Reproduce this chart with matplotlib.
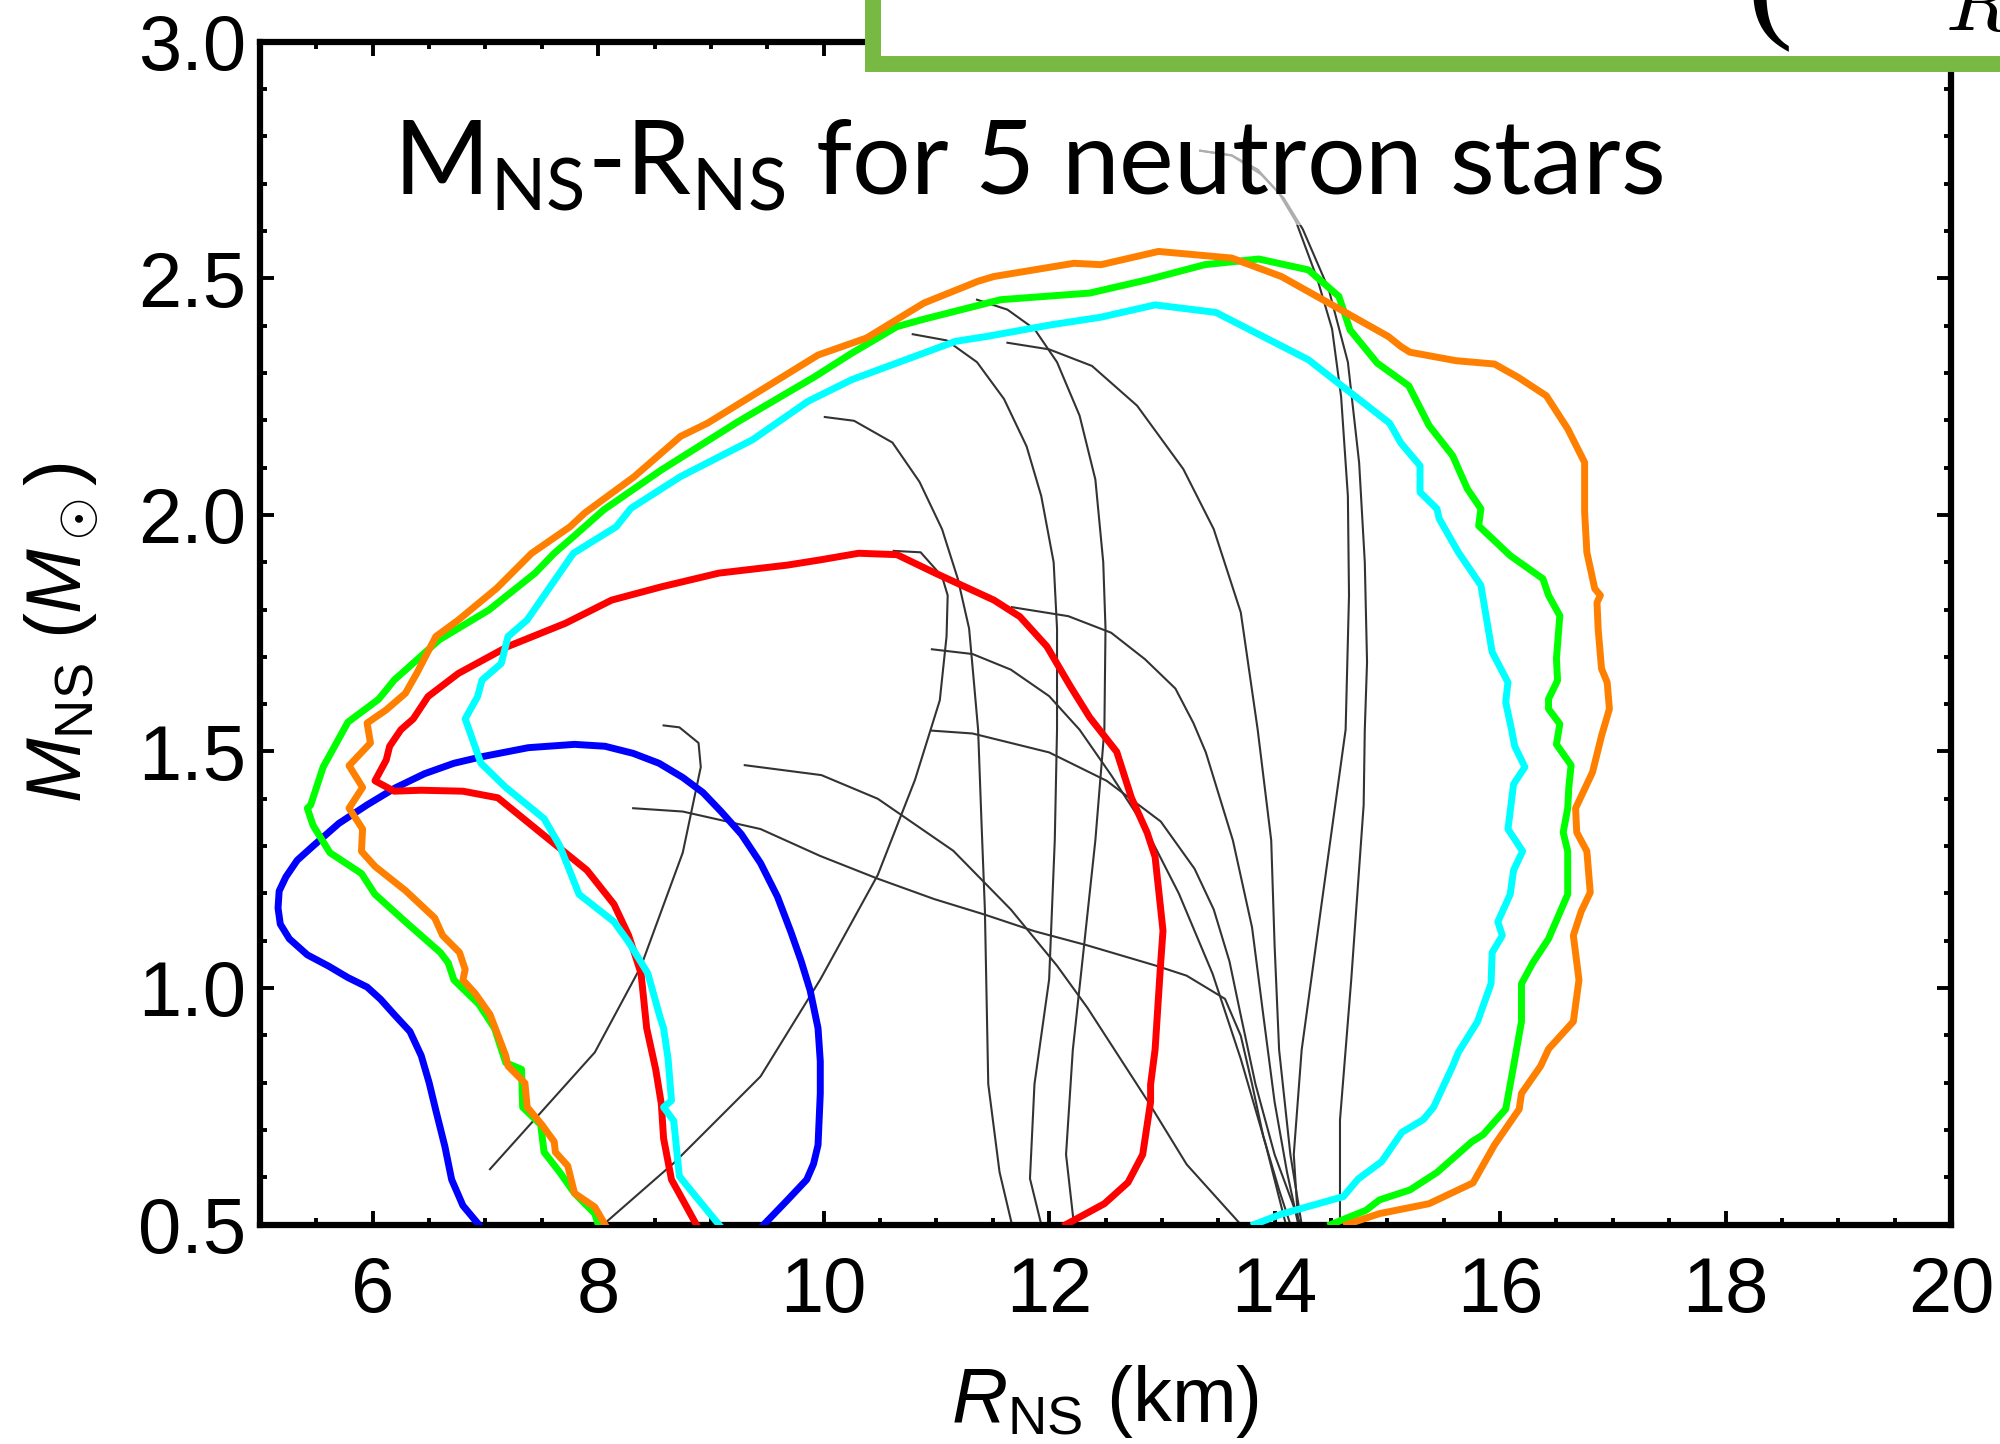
import numpy as np
import matplotlib
matplotlib.use('Agg')
import matplotlib.pyplot as plt
from matplotlib.patches import Rectangle
from matplotlib.ticker import MultipleLocator, FormatStrFormatter

plt.rcParams['font.family'] = ['Liberation Sans', 'DejaVu Sans']
plt.rcParams['mathtext.fontset'] = 'custom'
plt.rcParams['mathtext.rm'] = 'Liberation Sans'
plt.rcParams['mathtext.it'] = 'Liberation Sans:italic'
plt.rcParams['mathtext.sf'] = 'Lato'

# # # contours (R in km, M in solar masses)

blue_pts = [(6.94, 0.50), (6.80, 0.54), (6.70, 0.595), (6.64, 0.665), (6.56, 0.741), (6.50, 0.80),
            (6.43, 0.857), (6.33, 0.908), (6.19, 0.944), (6.07, 0.976), (5.95, 1.002), (5.78, 1.022),
            (5.61, 1.046), (5.42, 1.070), (5.26, 1.104), (5.18, 1.135), (5.16, 1.169), (5.17, 1.205),
            (5.23, 1.235), (5.33, 1.270), (5.47, 1.30), (5.70, 1.348), (5.95, 1.387), (6.20, 1.423),
            (6.46, 1.453), (6.72, 1.475), (6.97, 1.489), (7.38, 1.508), (7.79, 1.515), (8.06, 1.511),
            (8.31, 1.496), (8.54, 1.475), (8.75, 1.445), (8.93, 1.413), (9.09, 1.373), (9.27, 1.325),
            (9.44, 1.264), (9.59, 1.193), (9.71, 1.118), (9.80, 1.057), (9.88, 0.995), (9.95, 0.915),
            (9.97, 0.845), (9.97, 0.777), (9.95, 0.668), (9.91, 0.628), (9.85, 0.595), (9.68, 0.552),
            (9.47, 0.50)]

red_pts = [(8.87, 0.50), (8.75, 0.552), (8.65, 0.595), (8.58, 0.682), (8.56, 0.755), (8.51, 0.828),
           (8.43, 0.915), (8.38, 1.031), (8.27, 1.111), (8.14, 1.177), (7.90, 1.249), (7.45, 1.336),
           (7.11, 1.402), (6.80, 1.416), (6.43, 1.418), (6.19, 1.416), (6.02, 1.438), (6.12, 1.482),
           (6.15, 1.511), (6.25, 1.546), (6.36, 1.569), (6.49, 1.616), (6.76, 1.665), (7.20, 1.722),
           (7.71, 1.771), (8.12, 1.820), (8.56, 1.848), (9.07, 1.877), (9.68, 1.894), (9.97, 1.905),
           (10.31, 1.919), (10.65, 1.916), (10.99, 1.877), (11.51, 1.820), (11.74, 1.785),
           (11.98, 1.722), (12.19, 1.637), (12.36, 1.572), (12.60, 1.499), (12.73, 1.402),
           (12.87, 1.328), (12.94, 1.277), (12.99, 1.166), (13.01, 1.121), (12.99, 1.055),
           (12.97, 0.981), (12.94, 0.870), (12.90, 0.796), (12.90, 0.759), (12.83, 0.648),
           (12.70, 0.589), (12.49, 0.544), (12.15, 0.50)]

cyan_pts = [(9.07, 0.50), (8.89, 0.552), (8.72, 0.602), (8.67, 0.719), (8.58, 0.748), (8.65, 0.762),
            (8.62, 0.85), (8.58, 0.915), (8.55, 0.937), (8.44, 1.031), (8.27, 1.097), (8.14, 1.14),
            (7.83, 1.198), (7.66, 1.30), (7.52, 1.358), (7.18, 1.424), (6.96, 1.475), (6.82, 1.569),
            (6.93, 1.616), (6.97, 1.651), (7.14, 1.686), (7.20, 1.743), (7.37, 1.778), (7.78, 1.919),
            (8.16, 1.975), (8.29, 2.014), (8.73, 2.081), (9.37, 2.159), (9.86, 2.240), (10.25, 2.286),
            (11.17, 2.367), (11.44, 2.377), (12.02, 2.402), (12.46, 2.418), (12.94, 2.444),
            (13.48, 2.428), (14.30, 2.328), (15.02, 2.194), (15.12, 2.152), (15.29, 2.104),
            (15.29, 2.048), (15.44, 2.013), (15.46, 1.992), (15.63, 1.921), (15.83, 1.851),
            (15.93, 1.710), (16.07, 1.646), (16.05, 1.604), (16.10, 1.548), (16.13, 1.511),
            (16.22, 1.467), (16.12, 1.431), (16.07, 1.336), (16.20, 1.289), (16.12, 1.249),
            (16.09, 1.198), (15.98, 1.140), (16.02, 1.111), (15.93, 1.075), (15.92, 1.009),
            (15.80, 0.929), (15.63, 0.864), (15.58, 0.835), (15.41, 0.748), (15.32, 0.722),
            (15.13, 0.695), (14.95, 0.633), (14.74, 0.596), (14.61, 0.559), (14.06, 0.522),
            (13.82, 0.50)]

green_pts = [(8.00, 0.50), (7.97, 0.523), (7.79, 0.566), (7.66, 0.610), (7.52, 0.653), (7.49, 0.711),
             (7.33, 0.748), (7.32, 0.828), (7.18, 0.842), (7.08, 0.915), (6.94, 0.966), (6.72, 1.017),
             (6.67, 1.053), (6.60, 1.075), (6.29, 1.14), (6.02, 1.198), (5.90, 1.242), (5.62, 1.286),
             (5.47, 1.344), (5.42, 1.38), (5.45, 1.387), (5.56, 1.467), (5.78, 1.562), (6.05, 1.61),
             (6.12, 1.630), (6.19, 1.651), (6.29, 1.672), (6.59, 1.736), (7.03, 1.799), (7.44, 1.877),
             (7.61, 1.919), (7.78, 1.954), (8.05, 2.011), (8.56, 2.095), (9.24, 2.197), (9.92, 2.292),
             (10.25, 2.342), (10.65, 2.398), (10.86, 2.412), (11.57, 2.455), (12.36, 2.469),
             (12.87, 2.497), (13.38, 2.529), (13.86, 2.541), (14.30, 2.518), (14.57, 2.462),
             (14.67, 2.391), (14.91, 2.321), (15.19, 2.273), (15.37, 2.189), (15.58, 2.125),
             (15.71, 2.055), (15.83, 2.013), (15.81, 1.977), (16.09, 1.914), (16.38, 1.865),
             (16.43, 1.830), (16.53, 1.787), (16.50, 1.696), (16.51, 1.650), (16.43, 1.611),
             (16.43, 1.590), (16.53, 1.558), (16.50, 1.515), (16.63, 1.471), (16.61, 1.424),
             (16.60, 1.380), (16.56, 1.329), (16.60, 1.289), (16.60, 1.198), (16.43, 1.104),
             (16.29, 1.053), (16.19, 1.009), (16.19, 0.929), (16.12, 0.835), (16.05, 0.744),
             (15.85, 0.690), (15.75, 0.675), (15.44, 0.610), (15.20, 0.573), (14.93, 0.552),
             (14.81, 0.530), (14.50, 0.50)]

orange_pts = [(8.06, 0.50), (7.97, 0.537), (7.79, 0.566), (7.73, 0.624), (7.62, 0.653), (7.61, 0.675),
              (7.50, 0.711), (7.37, 0.748), (7.35, 0.799), (7.20, 0.835), (7.18, 0.857), (7.04, 0.944),
              (6.91, 0.988), (6.80, 1.017), (6.82, 1.039), (6.77, 1.075), (6.62, 1.111), (6.55, 1.148),
              (6.29, 1.206), (6.02, 1.257), (5.90, 1.289), (5.91, 1.336), (5.79, 1.38), (5.91, 1.424),
              (5.79, 1.47), (5.98, 1.518), (5.95, 1.56), (6.12, 1.588), (6.29, 1.623), (6.39, 1.665),
              (6.56, 1.743), (6.76, 1.778), (7.10, 1.845), (7.41, 1.919), (7.75, 1.975), (7.88, 2.004),
              (8.32, 2.081), (8.73, 2.166), (8.97, 2.194), (9.95, 2.338), (10.38, 2.374),
              (10.89, 2.448), (11.37, 2.494), (11.51, 2.504), (12.22, 2.532), (12.46, 2.529),
              (12.97, 2.557), (13.62, 2.543), (14.06, 2.504), (14.54, 2.44), (15.01, 2.377),
              (15.12, 2.356), (15.20, 2.344), (15.61, 2.326), (15.95, 2.319), (16.16, 2.291),
              (16.41, 2.252), (16.60, 2.182), (16.75, 2.111), (16.75, 2.006), (16.77, 1.921),
              (16.84, 1.844), (16.89, 1.830), (16.86, 1.815), (16.87, 1.759), (16.90, 1.675),
              (16.95, 1.646), (16.97, 1.590), (16.90, 1.533), (16.82, 1.456), (16.67, 1.380),
              (16.68, 1.329), (16.77, 1.289), (16.80, 1.202), (16.72, 1.162), (16.65, 1.111),
              (16.70, 1.017), (16.65, 0.929), (16.43, 0.871), (16.36, 0.835), (16.19, 0.777),
              (16.17, 0.744), (15.95, 0.668), (15.76, 0.588), (15.37, 0.544), (14.93, 0.523),
              (14.64, 0.50)]

# # # equation-of-state M-R curves (thin grey)

eos_a = [(7.04, 0.617), (7.97, 0.864), (8.38, 1.046), (8.75, 1.286), (8.91, 1.467), (8.89, 1.518),
         (8.72, 1.551), (8.58, 1.555)]
eos_b = [(8.07, 0.505), (8.68, 0.632), (9.44, 0.813), (9.97, 1.018), (10.48, 1.239), (10.81, 1.44),
         (11.03, 1.608), (11.09, 1.743), (11.10, 1.83), (11.05, 1.87), (10.86, 1.921), (10.62, 1.924)]
eos_c = [(8.31, 1.38), (8.75, 1.373), (9.44, 1.336), (9.97, 1.279), (10.48, 1.231), (10.98, 1.188),
         (11.43, 1.155), (11.87, 1.12), (12.34, 1.09), (12.95, 1.047), (13.22, 1.026), (13.56, 0.977),
         (13.70, 0.899), (13.80, 0.797), (13.90, 0.686), (14.04, 0.573), (14.14, 0.5)]
eos_d = [(9.30, 1.471), (9.98, 1.450), (10.48, 1.400), (11.15, 1.29), (11.66, 1.166), (12.07, 1.047),
         (12.34, 0.958), (12.88, 0.759), (13.22, 0.627), (13.70, 0.5)]
eos_f = [(10.01, 2.207), (10.27, 2.199), (10.61, 2.153), (10.85, 2.07), (11.05, 1.97), (11.19, 1.865),
         (11.29, 1.76), (11.33, 1.654), (11.37, 1.546), (11.40, 1.35), (11.43, 1.166), (11.46, 0.797),
         (11.56, 0.611), (11.67, 0.5)]
eos_g = [(10.79, 2.382), (11.09, 2.369), (11.36, 2.323), (11.60, 2.245), (11.80, 2.145), (11.93, 2.04),
         (12.04, 1.9), (12.07, 1.76), (12.07, 1.546), (12.05, 1.312), (12.00, 1.018), (11.87, 0.797),
         (11.83, 0.597), (11.93, 0.5)]
eos_h = [(11.36, 2.455), (11.63, 2.434), (11.87, 2.393), (12.07, 2.323), (12.27, 2.21), (12.41, 2.075),
         (12.48, 1.9), (12.50, 1.76), (12.49, 1.546), (12.41, 1.312), (12.31, 1.09), (12.21, 0.869),
         (12.15, 0.648), (12.22, 0.5)]
eos_i = [(11.63, 2.364), (12.00, 2.35), (12.38, 2.315), (12.78, 2.231), (13.19, 2.097), (13.46, 1.97),
         (13.70, 1.794), (13.85, 1.546), (13.97, 1.312), (14.00, 1.09), (14.04, 0.869), (14.14, 0.648),
         (14.24, 0.5)]
eos_j = [(11.67, 1.805), (12.17, 1.786), (12.55, 1.751), (12.85, 1.695), (13.12, 1.633), (13.28, 1.56),
         (13.39, 1.498), (13.63, 1.312), (13.80, 1.128), (13.90, 0.942), (14.00, 0.759), (14.11, 0.611),
         (14.21, 0.5)]
eos_k = [(10.96, 1.716), (11.32, 1.706), (11.66, 1.673), (12.00, 1.617), (12.27, 1.546), (12.55, 1.45),
         (12.85, 1.34), (13.15, 1.20), (13.45, 1.03), (13.70, 0.85), (13.92, 0.67), (14.10, 0.5)]
eos_l = [(10.96, 1.544), (11.32, 1.538), (12.00, 1.498), (12.51, 1.438), (12.99, 1.352), (13.29, 1.252),
         (13.46, 1.166), (13.60, 1.056), (13.70, 0.942), (13.83, 0.797), (14.00, 0.648), (14.17, 0.538),
         (14.23, 0.5)]
eos_m = [(13.34, 2.77), (13.62, 2.76), (13.85, 2.73), (14.04, 2.68), (14.19, 2.62), (14.38, 2.498),
         (14.51, 2.393), (14.59, 2.25), (14.65, 2.04), (14.66, 1.83), (14.63, 1.546), (14.41, 1.166),
         (14.24, 0.869), (14.17, 0.648), (14.21, 0.5)]
eos_n = [(13.34, 2.77), (13.62, 2.76), (13.88, 2.72), (14.08, 2.67), (14.25, 2.604), (14.48, 2.477),
         (14.65, 2.323), (14.75, 2.11), (14.80, 1.9), (14.82, 1.689), (14.80, 1.546), (14.79, 1.387),
         (14.68, 1.018), (14.58, 0.721), (14.58, 0.5)]

contours = [(blue_pts, '#0000ff'), (red_pts, '#ff0000'), (cyan_pts, '#00ffff'),
            (green_pts, '#00ff00'), (orange_pts, '#ff8000')]
eos_curves = [eos_a, eos_b, eos_c, eos_d, eos_f, eos_g, eos_h, eos_i, eos_j, eos_k, eos_l, eos_m, eos_n]

fig = plt.figure(figsize=(20, 14.44), dpi=100)
ax = fig.add_axes((0.130, 0.152, 0.8455, 0.819))

for pts in eos_curves:
    r, m = np.array(pts).T
    ax.plot(r, m, color='#333333', lw=1.5, zorder=2)

for pts, col in contours:
    r, m = np.array(pts).T
    ax.plot(r, m, color=col, lw=5, solid_joinstyle='round', zorder=3)

ax.set_xlim(5, 20)
ax.set_ylim(0.5, 3.0)
ax.xaxis.set_minor_locator(MultipleLocator(0.5))
ax.yaxis.set_major_locator(MultipleLocator(0.5))
ax.yaxis.set_minor_locator(MultipleLocator(0.1))
ax.yaxis.set_major_formatter(FormatStrFormatter('%.1f'))
ax.set_xticks([6, 8, 10, 12, 14, 16, 18, 20])
ax.tick_params(which='both', direction='in', top=True, right=True, width=2.8, labelsize=56)
ax.tick_params(which='major', length=10)
ax.tick_params(which='minor', length=5)
ax.tick_params(axis='x', pad=22)
ax.tick_params(axis='y', pad=10)
for sp in ax.spines.values():
    sp.set_linewidth(4.5)

ax.set_xlabel(r'$R_\mathrm{NS}$ (km)', fontsize=56, labelpad=25)
ax.set_ylabel(r'$M_\mathrm{NS}$ ($M_\odot$)', fontsize=56, labelpad=26)

ax.text(6.18, 2.679, r'M$_\mathsf{NS}$-R$_\mathsf{NS}$ for 5 neutron stars', fontfamily='Lato',
        fontsize=74.5, ha='left', va='baseline', zorder=4,
        bbox=dict(boxstyle='square,pad=0.12', fc='white', ec='none', alpha=0.6))

# green framed box overlapping the top edge
box = Rectangle((873 / 2000, 1 - 64 / 1444), 0.6, 0.3, transform=fig.transFigure,
                facecolor='white', edgecolor='#78b943', lw=11.5, zorder=5)
fig.add_artist(box)
fig.text(1770 / 2000, 1 - 52 / 1444, '(', fontfamily='Liberation Serif', fontsize=100,
         ha='center', va='bottom', zorder=6)
fig.text(1945 / 2000, 1 - 30 / 1444, r'$R$', math_fontfamily='cm', fontsize=60,
         ha='left', va='baseline', zorder=6)

fig.savefig('out.png', dpi=100)
